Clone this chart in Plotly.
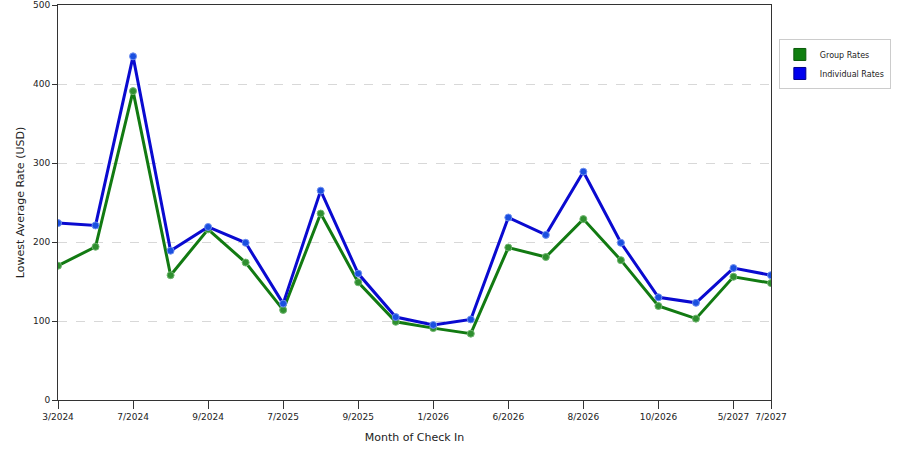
import plotly.graph_objects as go

# month of check in (only some of them are printed under the axis)
months = ["3/2024", "", "7/2024", "", "9/2024", "", "7/2025", "", "9/2025", "",
          "1/2026", "", "6/2026", "", "8/2026", "", "10/2026", "", "5/2027", "7/2027"]

group_rates = [170, 194, 391, 158, 216, 174, 114, 236, 149, 99,
               91, 84, 193, 181, 229, 177, 119, 103, 156, 148]
individual_rates = [224, 221, 435, 189, 219, 199, 122, 265, 160, 105,
                    95, 102, 231, 209, 289, 199, 130, 123, 167, 158]

y_ticks = [0, 100, 200, 300, 400, 500]

x = list(range(len(months)))
tick_pos = [i for i, m in enumerate(months) if m]
tick_txt = [m for m in months if m]

fig = go.Figure()

## lineas de las tarifas
fig.add_trace(go.Scatter(x=x, y=group_rates, mode="lines+markers", showlegend=False,
                         line=dict(color="#127a12", width=3),
                         marker=dict(size=7, color="#2f8f2f", line=dict(color="#6fb56f", width=1))))
fig.add_trace(go.Scatter(x=x, y=individual_rates, mode="lines+markers", showlegend=False,
                         line=dict(color="#0a0ad0", width=3),
                         marker=dict(size=7, color="#1a4fe0", line=dict(color="#6f8ff0", width=1))))

## cuadritos de la leyenda
fig.add_trace(go.Scatter(x=[None], y=[None], mode="markers", name="Group Rates",
                         marker=dict(symbol="square", size=12, color="#0f7f0f",
                                     line=dict(color="#0a5a0a", width=1))))
fig.add_trace(go.Scatter(x=[None], y=[None], mode="markers", name="Individual Rates",
                         marker=dict(symbol="square", size=12, color="#0000ee",
                                     line=dict(color="#00008a", width=1))))

fig.update_layout(
    width=900, height=450,
    margin=dict(l=58, r=129, t=5, b=50, autoexpand=False),
    paper_bgcolor="white", plot_bgcolor="white",
    font=dict(family="DejaVu Sans", size=9, color="#222222"),
    legend=dict(x=1.011, y=0.914, xanchor="left", yanchor="top",
                bordercolor="#cccccc", borderwidth=1, itemwidth=30,
                font=dict(size=8), itemsizing="trace", tracegroupgap=2),
)

fig.update_xaxes(
    range=[0, len(months) - 1], automargin=False,
    tickmode="array", tickvals=tick_pos, ticktext=tick_txt,
    ticks="outside", ticklen=8, tickcolor="#333333",
    showline=True, linecolor="#333333", linewidth=1, mirror=True,
    showgrid=False, zeroline=False,
    title=dict(text="Month of Check In", standoff=12),
)
fig.update_yaxes(
    range=[0, 500], automargin=False,
    tickmode="array", tickvals=y_ticks,
    ticks="outside", ticklen=5, tickcolor="#333333",
    showline=True, linecolor="#333333", linewidth=1, mirror=True,
    showgrid=True, gridcolor="#d8d8d8", griddash="dash", zeroline=False,
    title=dict(text="Lowest Average Rate (USD)", standoff=6),
)

## quitar el margen del body para que el grafico quede en (0,0)
fig.write_html("out.html", config={"displayModeBar": False},
               post_script="document.body.style.margin='0';")
